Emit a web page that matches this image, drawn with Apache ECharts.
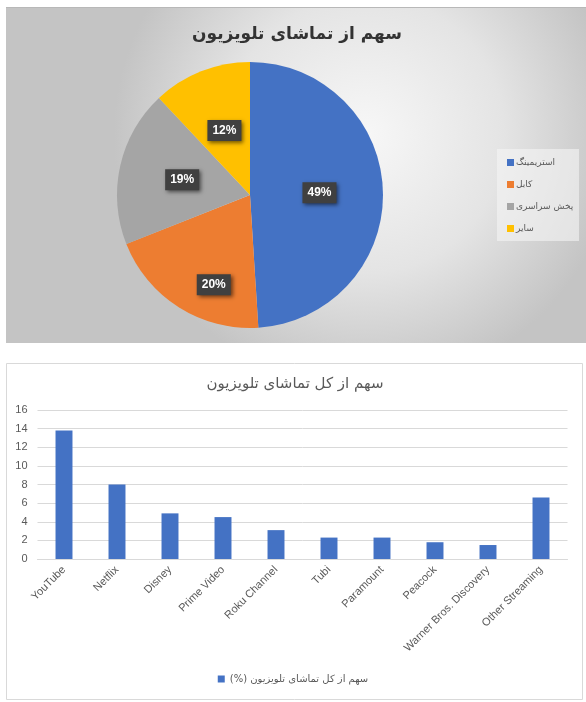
<!DOCTYPE html>
<html>
<head>
<meta charset="utf-8">
<script src="https://cdn.jsdelivr.net/npm/echarts@6/dist/echarts.min.js"></script>
<style>html,body{margin:0;padding:0;background:#fff}#c{width:586px;height:702px}</style>
</head>
<body>
<div id="c"></div>
<script>
var pieTitle = 'سهم از تماشای تلویزیون';
var pieNames = ['استریمینگ', 'کابل', 'پخش سراسری', 'سایر'];
var pieValues = [49, 20, 19, 12];
var pieColors = ['#4472c4', '#ed7d31', '#a5a5a5', '#ffc000'];

var barTitle = 'سهم از کل تماشای تلویزیون';
var barSeriesName = 'سهم از کل تماشای تلویزیون (%)';
var barCategories = ['YouTube', 'Netflix', 'Disney', 'Prime Video', 'Roku Channel', 'Tubi', 'Paramount', 'Peacock', 'Warner Bros. Discovery', 'Other Streaming'];
var barValues = [13.8, 8.0, 4.9, 4.5, 3.1, 2.3, 2.3, 1.8, 1.5, 6.6];
var yTicks = [0, 2, 4, 6, 8, 10, 12, 14, 16];

var AR = '"DejaVu Sans", "Noto Sans", sans-serif';
var LAT = '"Liberation Sans", Arial, sans-serif';

var chart = echarts.init(document.getElementById('c'), null, {renderer: 'canvas'});

var pieData = pieNames.map(function (n, i) {
  var d = {name: n, value: pieValues[i], itemStyle: {color: pieColors[i]}};
  if (i === 1) d.label = {offset: [1, 31]};
  return d;
});

chart.setOption({
  animation: false,
  graphic: [
    {type: 'rect', z: -10, shape: {x: 6, y: 7, width: 580, height: 336},
      style: {fill: new echarts.graphic.RadialGradient(0.62, 0.38, 0.75, [
        {offset: 0, color: '#f7f7f7'}, {offset: 0.55, color: '#e4e4e4'}, {offset: 1, color: '#c4c4c4'}]),
        stroke: null}},
    {type: 'rect', z: -9, shape: {x: 6, y: 7, width: 580, height: 1}, style: {fill: '#b8b8b8'}},
    {type: 'rect', z: -9, shape: {x: 497, y: 149, width: 82, height: 92}, style: {fill: 'rgba(245,245,245,0.6)'}},
    {type: 'rect', z: -10, shape: {x: 6.5, y: 363.5, width: 576, height: 336},
      style: {fill: '#ffffff', stroke: '#d9d9d9', lineWidth: 1}}
  ],
  title: [
    {text: pieTitle, left: 292, top: 21, textAlign: 'center',
      textStyle: {fontFamily: AR, fontSize: 17, fontWeight: 'bold', color: '#333'}},
    {text: barTitle, left: 290, top: 372, textAlign: 'center',
      textStyle: {fontFamily: AR, fontSize: 15, fontWeight: 'normal', color: '#595959'}}
  ],
  legend: [
    {data: pieNames, orient: 'vertical', left: 502, top: 153, itemWidth: 7, itemHeight: 7, itemGap: 13,
      icon: 'rect', selectedMode: false,
      textStyle: {fontFamily: AR, fontSize: 9, color: '#595959', padding: [0, 0, 0, -3]}},
    {data: [barSeriesName + '\u200F'], left: 'center', top: 669, itemWidth: 7, itemHeight: 7,
      icon: 'rect', selectedMode: false,
      textStyle: {fontFamily: AR, fontSize: 10, color: '#595959'}}
  ],
  grid: {left: 37.5, right: 18.5, top: 410, bottom: 143},
  xAxis: {type: 'category', data: barCategories,
    axisLine: {lineStyle: {color: '#d9d9d9'}}, axisTick: {show: false},
    axisLabel: {interval: 0, rotate: 45, fontFamily: LAT, fontSize: 11, color: '#595959', margin: 9}},
  yAxis: {type: 'value', min: yTicks[0], max: yTicks[yTicks.length - 1], interval: 2,
    axisLine: {show: false}, axisTick: {show: false},
    splitLine: {lineStyle: {color: '#d9d9d9'}},
    axisLabel: {fontFamily: LAT, fontSize: 11, color: '#595959', margin: 10}},
  series: [
    {type: 'pie', center: [250, 195], radius: 133, startAngle: 90, clockwise: true,
      data: pieData, silent: true, legendHoverLink: false,
      itemStyle: {borderWidth: 0},
      label: {show: true, position: 'inside', formatter: '{c}%',
        fontFamily: LAT, fontSize: 12, fontWeight: 'bold', color: '#fff',
        backgroundColor: '#404040', padding: [5, 5, 4, 5],
        shadowColor: 'rgba(0,0,0,0.55)', shadowBlur: 4, shadowOffsetX: 2, shadowOffsetY: 2},
      labelLine: {show: false}},
    {type: 'bar', name: barSeriesName + '\u200F', data: barValues, barWidth: '32%',
      itemStyle: {color: '#4472c4'}, silent: true}
  ]
});
</script>
</body>
</html>
